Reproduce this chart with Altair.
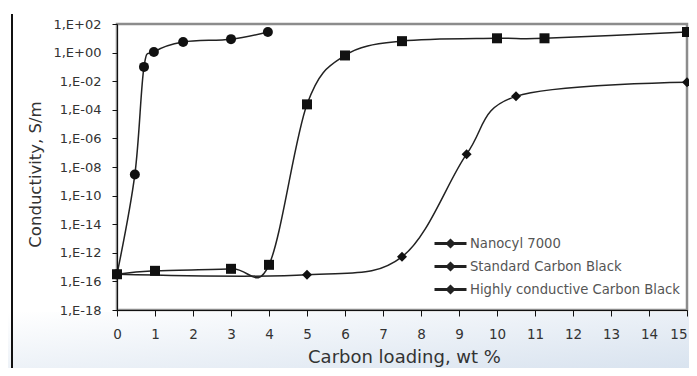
import altair as alt
import pandas as pd

# Y axis tick labels, bottom to top (evenly spaced, as printed in the source chart)
y_labels = ["1,E-18", "1,E-16", "1,E-12", "1,E-14", "1,E-10", "1,E-08",
            "1,E-06", "1,E-04", "1,E-02", "1,E+00", "1,E+02"]
x_ticks = list(range(0, 16))

series_names = ["Nanocyl 7000", "Standard Carbon Black", "Highly conductive Carbon Black"]
series_shapes = ["circle", "diamond", "square"]

# values in y-tick units (0 = 1,E-18 tick ... 10 = 1,E+02 tick)
nanocyl_x = [0, 0.47, 0.71, 0.97, 1.74, 3.0, 3.97]
nanocyl_y = [1.25, 4.74, 8.5, 9.02, 9.37, 9.47, 9.72]

std_x = [0, 5, 7.5, 9.2, 10.5, 15]
std_y = [1.25, 1.23, 1.86, 5.45, 7.47, 7.96]

hcb_x = [0, 1, 3, 4, 5, 6, 7.5, 10, 11.25, 15]
hcb_y = [1.25, 1.37, 1.44, 1.58, 7.19, 8.9, 9.4, 9.5, 9.5, 9.72]

rows = []
for name, xs, ys in zip(series_names, [nanocyl_x, std_x, hcb_x], [nanocyl_y, std_y, hcb_y]):
    for xv, yv in zip(xs, ys):
        rows.append({"series": name, "x": xv, "y": yv})
df = pd.DataFrame(rows)

FONT = "DejaVu Sans"
label_expr = "[" + ",".join("'" + s + "'" for s in y_labels) + "][datum.value]"

x_axis = alt.Axis(values=x_ticks, title="Carbon loading, wt %", grid=False,
                  tickSize=6, labelPadding=11, labelFontSize=13.5,
                  labelOverlap=False, labelFlush=False, tickCount=16,
                  labelAlign={"condition": {"test": "datum.value == 15", "value": "right"},
                              "value": "center"},
                  titleFontSize=18, titleX=287, titleY=47, titleBaseline="middle",
                  domainColor="#111", tickColor="#111", zindex=1)
y_axis = alt.Axis(values=list(range(11)), labelExpr=label_expr, tickCount=11,
                  title="Conductivity, S/m", grid=False, tickSize=5,
                  labelOverlap=False, labelFlush=False,
                  labelPadding=11, labelFontSize=13, titleFontSize=16.5,
                  titleX=-82, titleY=150, titleBaseline="middle",
                  domainColor="#111", tickColor="#111", zindex=1)
x_scale = alt.Scale(domain=[0, 15], nice=False)
y_scale = alt.Scale(domain=[0, 10], nice=False)


def xe():
    return alt.X("x:Q", scale=x_scale, axis=x_axis)


def ye():
    return alt.Y("y:Q", scale=y_scale, axis=y_axis)


legend_path = "M-1.6,0H1.6M-0.3,0L0,-0.3L0.3,0L0,0.3Z"

lines = alt.Chart(df).mark_line(interpolate="cardinal", strokeWidth=1.5).encode(
    x=xe(), y=ye(),
    color=alt.Color("series:N", scale=alt.Scale(domain=series_names, range=["#222"] * 3),
                    legend=alt.Legend(orient="none", legendX=322, legendY=208, title=None,
                                      symbolType=legend_path, symbolSize=400,
                                      symbolStrokeWidth=3, symbolStrokeColor="#111",
                                      labelFontSize=13.2, labelColor="#555",
                                      labelFont=FONT, labelOffset=8,
                                      labelLimit=400, rowPadding=2, padding=0)))

point_layers = []
for name, shp in zip(series_names, series_shapes):
    point_layers.append(
        alt.Chart(df).transform_filter(alt.datum.series == name)
        .mark_point(filled=True, size=100, opacity=1, color="#111", shape=shp)
        .encode(x=xe(), y=ye())
    )

bg = alt.Chart(pd.DataFrame({"a": [0]})).mark_rect(
    color=alt.Gradient(gradient="linear", x1=0, y1=0, x2=1, y2=1,
                       stops=[alt.GradientStop(color="#ffffff", offset=0),
                              alt.GradientStop(color="#d6e1ee", offset=1)])
).encode(x=alt.value(-109), x2=alt.value(580), y=alt.value(288), y2=alt.value(352))

frame_line = alt.Chart(pd.DataFrame({"a": [0]})).mark_rule(color="#111", strokeWidth=2).encode(
    x=alt.value(-105), y=alt.value(-10), y2=alt.value(352))

chart = alt.layer(bg, frame_line, lines, *point_layers).properties(
    width=570, height=286,
    autosize=alt.AutoSizeParams(type="none"),
    padding={"left": 109, "top": 16, "right": 2, "bottom": 58},
    background="white",
).configure_view(stroke="#8c8c8c", strokeWidth=2.5).configure_axis(
    labelFont=FONT, titleFont=FONT, labelColor="#333", titleColor="#333",
    titleFontWeight="normal"
)

chart.save("out.html", embed_options={"renderer": "svg", "actions": False})
